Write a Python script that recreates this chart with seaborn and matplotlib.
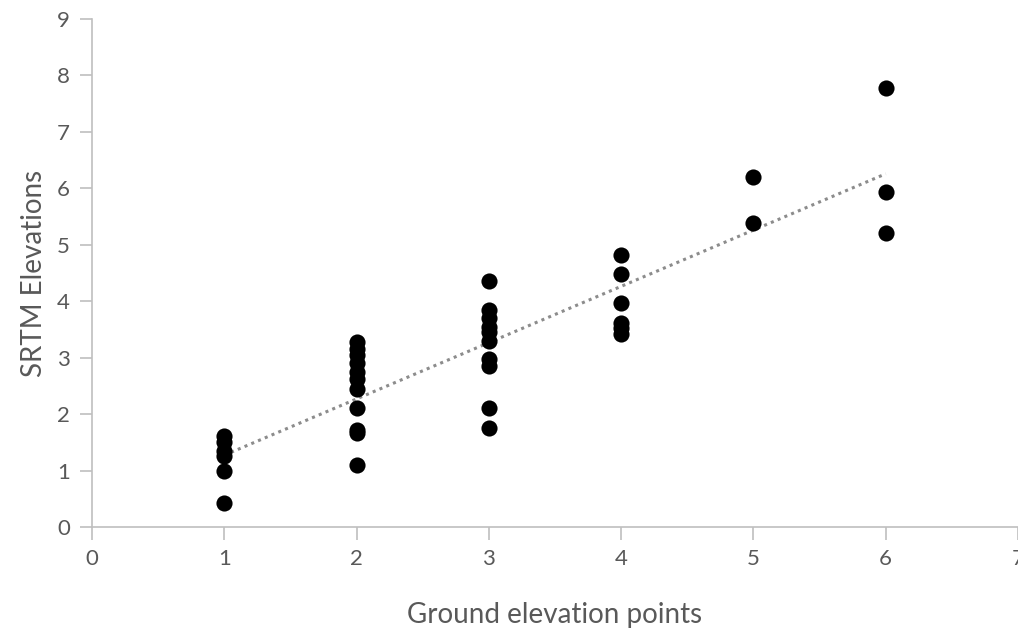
import numpy as np
import pandas as pd
import matplotlib
matplotlib.use("Agg")
import matplotlib.pyplot as plt
import seaborn as sns

# ground elevation points (x) and SRTM elevations (y)
ground = [1, 1, 1, 1, 1, 1,
          2, 2, 2, 2, 2, 2, 2, 2, 2, 2, 2,
          3, 3, 3, 3, 3, 3, 3, 3, 3, 3,
          4, 4, 4, 4, 4, 4,
          5, 5,
          6, 6, 6]
srtm = [1.62, 1.5, 1.35, 1.25, 1.0, 0.42,
        3.27, 3.15, 3.05, 2.9, 2.75, 2.62, 2.45, 2.1, 1.72, 1.67, 1.1,
        4.35, 3.85, 3.7, 3.55, 3.45, 3.3, 2.97, 2.85, 2.1, 1.76,
        4.82, 4.48, 3.97, 3.62, 3.52, 3.42,
        6.2, 5.39,
        7.77, 5.94, 5.21]

df = pd.DataFrame({"ground": ground, "srtm": srtm})

sns.set_style("white")
plt.rcParams['font.family'] = ['Lato', 'DejaVu Sans']

fig = plt.figure(figsize=(10.18, 6.30), dpi=100)
ax = fig.add_axes([0.0904, 0.1635, 0.9096, 0.8063])

sns.regplot(data=df, x="ground", y="srtm", ax=ax, scatter=False, ci=None,
            line_kws=dict(color="#8c8c8c", lw=2.2, linestyle=(0, (1, 1.4))))
sns.scatterplot(data=df, x="ground", y="srtm", ax=ax, color="black",
                s=135, edgecolor="black", linewidth=0, zorder=3)

ax.set_xlim(0, 7)
ax.set_ylim(0, 9)
ax.set_xticks(range(0, 8))
ax.set_yticks(range(0, 10))

grey = "#bfbfbf"
for side in ["top", "right"]:
    ax.spines[side].set_visible(False)
for side in ["left", "bottom"]:
    ax.spines[side].set_color(grey)
    ax.spines[side].set_linewidth(1.2)
ax.tick_params(axis="both", direction="out", length=9, width=1.2, color=grey,
               labelsize=16, labelcolor="#595959", pad=7, left=True, bottom=True)

ax.set_xlabel("Ground elevation points", fontsize=20, color="#595959")
ax.set_ylabel("SRTM Elevations", fontsize=20, color="#595959")
ax.xaxis.set_label_coords(0.5, -0.148)
ax.yaxis.set_label_coords(-0.049, 0.5)

fig.savefig("out.png", dpi=100)
